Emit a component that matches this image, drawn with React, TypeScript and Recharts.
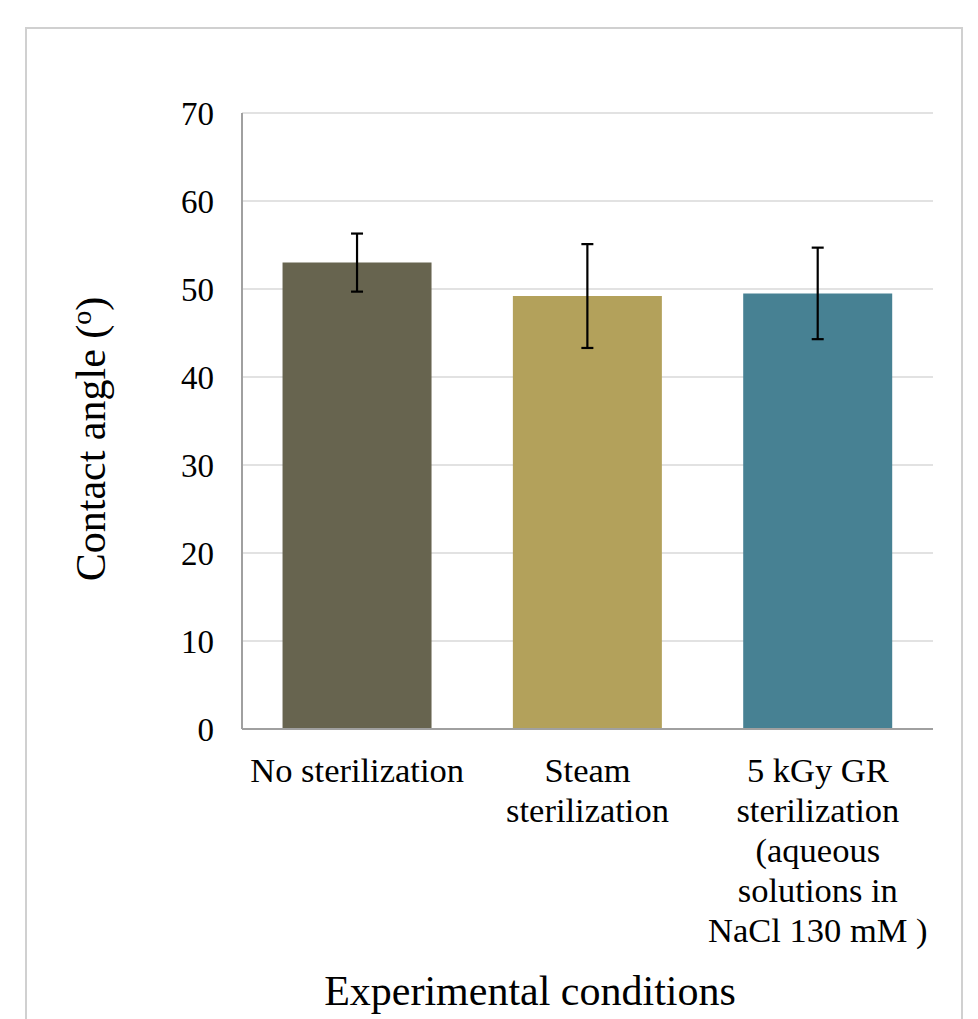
import { Bar, BarChart, CartesianGrid, Cell, ErrorBar, Label, XAxis, YAxis } from "recharts"

// contact angle per sterilization condition (mean ± sd)
const categories = [
  "No sterilization",
  "Steam sterilization",
  "5 kGy GR sterilization (aqueous solutions in NaCl 130 mM )",
]
const tickLines = [
  ["No sterilization"],
  ["Steam", "sterilization"],
  ["5 kGy GR", "sterilization", "(aqueous", "solutions in", "NaCl 130 mM )"],
]
const angles = [53.0, 49.2, 49.5]
const deviations = [3.3, 5.9, 5.2]
const yTicks = [0, 10, 20, 30, 40, 50, 60, 70]

const COLORS = ["#67644f", "#b3a15b", "#478193"]
const FONT = '"Liberation Serif", "Times New Roman", serif'

const data = categories.map((name, i) => ({ name, angle: angles[i], err: deviations[i] }))

const CategoryTick = ({ x, y, payload }: any) => {
  const idx = categories.indexOf(payload.value)
  const lines = tickLines[idx] || [payload.value]
  return (
    <text x={x} y={y + 53} textAnchor="middle" fill="#000" fontSize={34.5} fontFamily={FONT}>
      {lines.map((line, i) => (
        <tspan key={i} x={x} dy={i === 0 ? 0 : 40}>
          {line}
        </tspan>
      ))}
    </text>
  )
}

export default function App() {
  return (
    <div
      style={{
        position: "absolute",
        left: 0,
        top: 0,
        width: 978,
        height: 1019,
        background: "#fff",
        overflow: "hidden",
      }}
    >
      <div
        style={{
          position: "absolute",
          left: 25,
          top: 27,
          width: 938,
          height: 1000,
          boxSizing: "border-box",
          border: "2px solid #d0d0d0",
          borderBottom: "none",
        }}
      />
      <BarChart
        width={978}
        height={1019}
        data={data}
        margin={{ top: 113, right: 45, left: 0, bottom: 0 }}
        barCategoryGap="17.6%"
        style={{ position: "absolute", left: 0, top: 0 }}
      >
        <CartesianGrid vertical={false} stroke="#d9d9d9" strokeWidth={1.5} />
        <XAxis
          dataKey="name"
          height={290}
          axisLine={{ stroke: "#a0a0a0", strokeWidth: 2 }}
          tickLine={false}
          tickSize={0}
          tickMargin={0}
          interval={0}
          tick={<CategoryTick />}
        >
          <Label
            content={() => (
              <text x={530} y={1005} textAnchor="middle" fill="#000" fontSize={42} fontFamily={FONT}>
                Experimental conditions
              </text>
            )}
          />
        </XAxis>
        <YAxis
          width={242}
          domain={[0, 70]}
          ticks={yTicks}
          interval={0}
          axisLine={{ stroke: "#a0a0a0", strokeWidth: 2 }}
          tickLine={false}
          tickSize={0}
          tickMargin={28}
          tick={{ fill: "#000", fontSize: 33, fontFamily: FONT }}
        >
          <Label
            content={() => (
              <text
                x={105}
                y={439}
                transform="rotate(-90 105 439)"
                textAnchor="middle"
                fill="#000"
                fontSize={42}
                fontFamily={FONT}
              >
                Contact angle (
                <tspan fontSize={28} dy={-14}>
                  o
                </tspan>
                <tspan dy={14}>)</tspan>
              </text>
            )}
          />
        </YAxis>
        <YAxis
          yAxisId="frame"
          orientation="right"
          width={0}
          tick={false}
          tickLine={false}
          axisLine={{ stroke: "#d9d9d9", strokeWidth: 1.5 }}
        />
        <Bar dataKey="angle" isAnimationActive={false}>
          {data.map((entry, index) => (
            <Cell key={`cell-${index}`} fill={COLORS[index % COLORS.length]} />
          ))}
          <ErrorBar dataKey="err" width={6} stroke="#000" strokeWidth={2.2} />
        </Bar>
      </BarChart>
    </div>
  )
}
